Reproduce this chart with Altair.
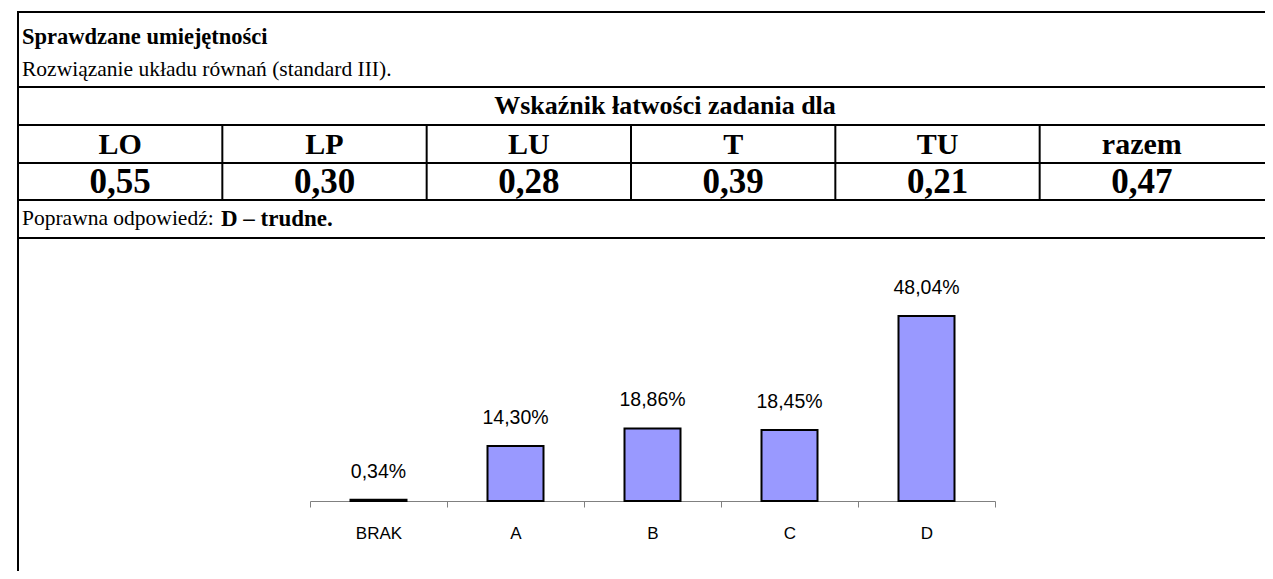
import altair as alt
import pandas as pd

# ---- data ----
categories = ["BRAK", "A", "B", "C", "D"]
percentages = [0.34, 14.30, 18.86, 18.45, 48.04]

groups = ["LO", "LP", "LU", "T", "TU", "razem"]
ease_values = ["0,55", "0,30", "0,28", "0,39", "0,21", "0,47"]

title_bold = "Sprawdzane umiejętności"
skill_text = "Rozwiązanie układu równań (standard III)."
header_text = "Wskaźnik łatwości zadania dla"
answer_lead = "Poprawna odpowiedź:"
answer_bold = "D – trudne."

# ---- layout ----
W, H = 1257, 563
SERIF = "Liberation Serif"
SANS = "Liberation Sans"

dummy = pd.DataFrame({"k": [0]})
bar_df = pd.DataFrame({"cat": categories, "pct": percentages})
tab_df = pd.DataFrame({"group": groups, "val": ease_values})
div_df = pd.DataFrame({"group": groups[1:]})


def hline(y, x0=10, x1=W):
    return alt.Chart(dummy).mark_rule(color="black", strokeWidth=2).encode(
        x=alt.value(x0), x2=alt.value(x1), y=alt.value(y))


def label(txt, x, y, size, bold=False, align="left"):
    return alt.Chart(dummy).mark_text(
        text=txt, font=SERIF, fontSize=size, fontWeight="bold" if bold else "normal",
        align=align, baseline="middle", color="black").encode(x=alt.value(x), y=alt.value(y))


layers = []
for yy in [4, 79, 117, 155, 192, 230]:
    layers.append(hline(yy))
layers.append(alt.Chart(dummy).mark_rule(color="black", strokeWidth=2).encode(
    x=alt.value(10), y=alt.value(3), y2=alt.value(H)))

col_scale = alt.Scale(type="band", domain=groups, range=[10, 1236], paddingInner=0, paddingOuter=0)
layers.append(alt.Chart(div_df).mark_rule(color="black", strokeWidth=2).encode(
    x=alt.X("group:N", scale=col_scale, axis=None, bandPosition=0),
    y=alt.value(117), y2=alt.value(192)))

layers.append(alt.Chart(tab_df).mark_text(font=SERIF, fontSize=30, fontWeight="bold", baseline="middle", color="black").encode(
    x=alt.X("group:N", scale=col_scale, axis=None, bandPosition=0.5), y=alt.value(137), text="group:N"))
layers.append(alt.Chart(tab_df).mark_text(font=SERIF, fontSize=35, fontWeight="bold", baseline="middle", color="black").encode(
    x=alt.X("group:N", scale=col_scale, axis=None, bandPosition=0.5), y=alt.value(174), text="val:N"))

layers.append(label(title_bold, 14, 29, 22.5, bold=True))
layers.append(label(skill_text, 14, 62, 21.5))
layers.append(label(header_text, 657, 98, 26, bold=True, align="center"))
layers.append(label(answer_lead, 14, 211, 21.5))
layers.append(label(answer_bold, 213, 211, 23, bold=True))

# ---- bar chart ----
xs = alt.Scale(type="band", domain=categories, range=[302, 987], paddingInner=0, paddingOuter=0)
ys = alt.Scale(domain=[0, 50], range=[493, 300.5], nice=False, zero=True)

bars = alt.Chart(bar_df).mark_bar(size=56, color="#9999FF", stroke="black", strokeWidth=2).encode(
    x=alt.X("cat:N", scale=xs, title=None, axis=alt.Axis(
        offset=-(H - 493), tickBand="extent", domainColor="#808080", tickColor="#808080",
        tickSize=6, domainWidth=1, tickWidth=1, labelFont=SANS, labelFontSize=17, labelColor="black",
        labelPadding=18, labelAngle=0, grid=False)),
    y=alt.Y("pct:Q", scale=ys, axis=None))

vals = alt.Chart(bar_df).transform_calculate(
    lab="replace(format(datum.pct, '.2f'), '.', ',') + '%'"
).mark_text(font=SANS, fontSize=19.5, dy=-22, baseline="alphabetic", color="black").encode(
    x=alt.X("cat:N", scale=xs, axis=None, bandPosition=0.5),
    y=alt.Y("pct:Q", scale=ys, axis=None),
    text="lab:N")

layers += [bars, vals]

chart = alt.layer(*layers).resolve_scale(x="independent", y="independent").properties(
    width=W, height=H, autosize=alt.AutoSizeParams(type="none"), padding=0,
    background="white").configure_view(stroke=None)

chart.save("out.html", embed_options={"renderer": "svg", "actions": False})
